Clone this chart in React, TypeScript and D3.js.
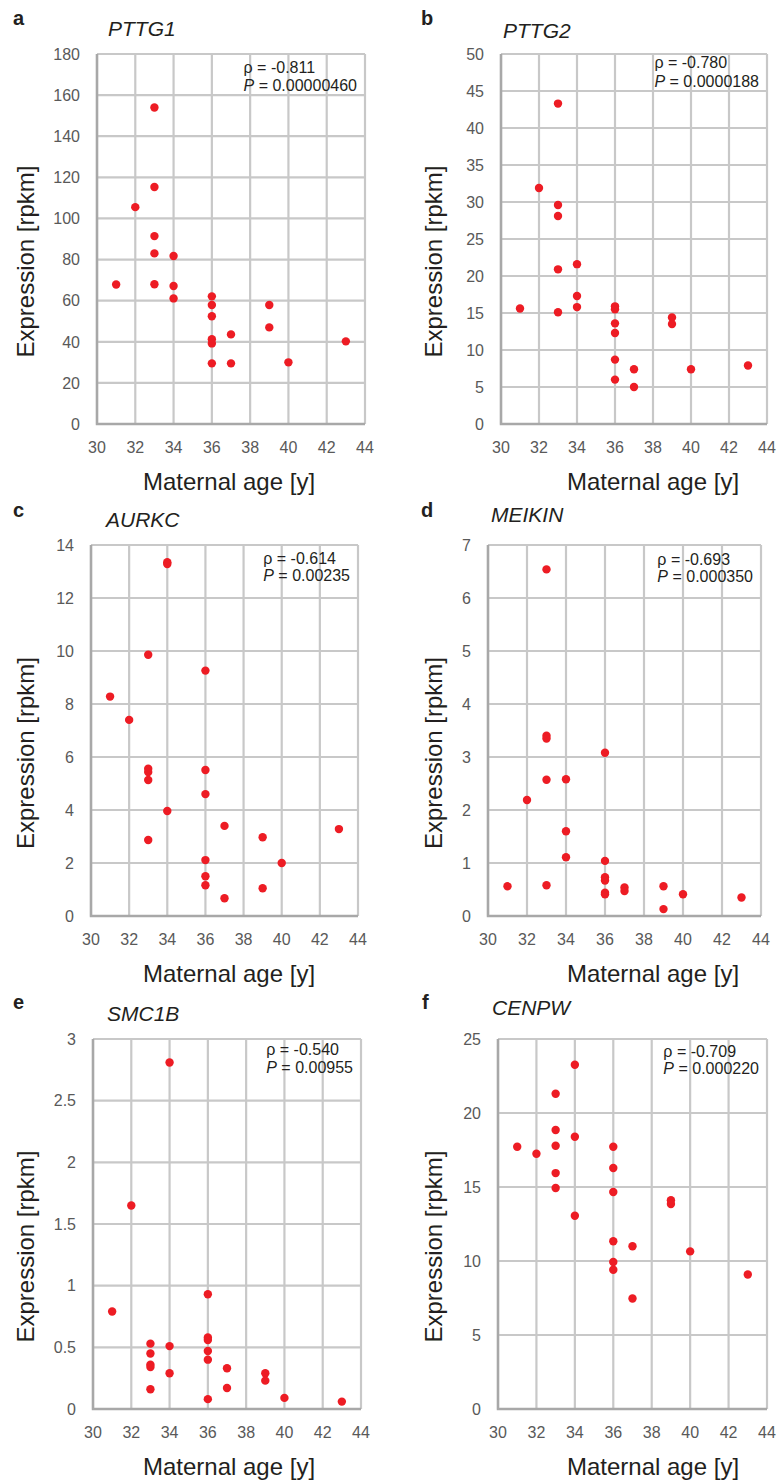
import React, { useEffect, useRef } from "react";
import * as d3 from "d3";

// maternal age of each of the 22 samples (same order for every gene, grouped by age)
const ages = [31, 32, 33, 33, 33, 33, 33, 34, 34, 34, 36, 36, 36, 36, 36, 36, 37, 37, 39, 39, 40, 43];

const pttg1 = [67.9, 105.5, 154, 115.3, 91.4, 83.0, 68.0, 81.7, 67.1, 61.1, 62.1, 57.9, 52.4, 41.2, 39.2, 29.5, 43.6, 29.5, 57.9, 47.0, 30.0, 40.2];
const pttg2 = [15.6, 31.9, 43.3, 29.6, 28.1, 20.9, 15.1, 21.6, 17.3, 15.8, 15.9, 15.5, 13.6, 12.3, 8.7, 6.0, 7.4, 5.0, 14.4, 13.5, 7.4, 7.9];
const aurkc = [8.28, 7.4, 9.86, 5.56, 5.43, 5.13, 2.87, 13.35, 13.28, 3.96, 9.26, 5.51, 4.6, 2.11, 1.5, 1.16, 3.4, 0.67, 2.97, 1.05, 2.0, 3.28];
const meikin = [0.56, 2.19, 6.54, 3.4, 3.35, 2.57, 0.58, 2.58, 1.6, 1.11, 3.08, 1.04, 0.73, 0.67, 0.44, 0.41, 0.54, 0.47, 0.56, 0.13, 0.41, 0.35];
const smc1b = [0.79, 1.65, 0.53, 0.45, 0.36, 0.34, 0.16, 2.81, 0.51, 0.29, 0.93, 0.58, 0.56, 0.47, 0.4, 0.08, 0.33, 0.17, 0.29, 0.23, 0.09, 0.06];
const cenpw = [17.72, 17.25, 21.3, 18.85, 17.79, 15.94, 14.93, 23.26, 18.4, 13.06, 17.72, 16.28, 14.66, 11.33, 9.93, 9.41, 11.0, 7.47, 14.1, 13.85, 10.65, 9.09];

const letters = ["a", "b", "c", "d", "e", "f"];
const genes = ["PTTG1", "PTTG2", "AURKC", "MEIKIN", "SMC1B", "CENPW"];
const rhos = ["-0.811", "-0.780", "-0.614", "-0.693", "-0.540", "-0.709"];
const pvals = ["0.00000460", "0.0000188", "0.00235", "0.000350", "0.00955", "0.000220"];
const yMax = [180, 50, 14, 7, 3, 25];
const yStep = [20, 5, 2, 1, 0.5, 5];
const xTicks = [30, 32, 34, 36, 38, 40, 42, 44];
const series = [pttg1, pttg2, aurkc, meikin, smc1b, cenpw];

// panel geometry (pixels)
const boxes = [
  { l: 97, r: 365, t: 54, b: 424, lx: 13, ly: 24.5, tx: 108, ty: 36, a1: 18.5, a2: 36.5, col: 0 },
  { l: 501, r: 767, t: 54, b: 424, lx: 421, ly: 25, tx: 503, ty: 37.5, a1: 14, a2: 33, col: 1 },
  { l: 91, r: 358, t: 545, b: 916, lx: 13, ly: 517, tx: 106, ty: 527, a1: 18.5, a2: 36, col: 0 },
  { l: 488, r: 761, t: 545, b: 916, lx: 421, ly: 517, tx: 491, ty: 522, a1: 20, a2: 37, col: 1 },
  { l: 93, r: 361, t: 1039, b: 1409, lx: 13, ly: 1009, tx: 107, ty: 1021, a1: 16, a2: 34, col: 0 },
  { l: 498, r: 767, t: 1039, b: 1409, lx: 422, ly: 1009, tx: 492, ty: 1015, a1: 18, a2: 35, col: 1 },
];
const xTitleX = [229, 653];
const yTitleX = [33.5, 442];

const font = "'Liberation Sans', Arial, Helvetica, sans-serif";

export default function App() {
  const ref = useRef<SVGSVGElement>(null);

  useEffect(() => {
    const svg = d3.select(ref.current);
    svg.selectAll("*").remove();

    boxes.forEach((bx, i) => {
      const g = svg.append("g");
      const x = d3.scaleLinear().domain([30, 44]).range([bx.l, bx.r]);
      const y = d3.scaleLinear().domain([0, yMax[i]]).range([bx.b, bx.t]);
      const yTicks = d3.range(0, yMax[i] + yStep[i] / 2, yStep[i]);

      // grid
      g.selectAll(".vg")
        .data(xTicks)
        .join("line")
        .attr("x1", (d) => x(d))
        .attr("x2", (d) => x(d))
        .attr("y1", bx.t)
        .attr("y2", bx.b)
        .attr("stroke", "#c8c8c8")
        .attr("stroke-width", 2.2);
      g.selectAll(".hg")
        .data(yTicks)
        .join("line")
        .attr("x1", bx.l)
        .attr("x2", bx.r)
        .attr("y1", (d) => y(d))
        .attr("y2", (d) => y(d))
        .attr("stroke", "#c8c8c8")
        .attr("stroke-width", 2.2);

      // axis lines
      g.append("path")
        .attr("d", `M${bx.l},${bx.t}V${bx.b}H${bx.r}`)
        .attr("fill", "none")
        .attr("stroke", "#a8a8a8")
        .attr("stroke-width", 2.5);

      // tick labels
      g.selectAll(".yl")
        .data(yTicks)
        .join("text")
        .attr("x", bx.l - 17)
        .attr("y", (d) => y(d))
        .attr("dy", "0.36em")
        .attr("text-anchor", "end")
        .attr("font-size", 16)
        .attr("fill", "#595959")
        .attr("font-family", font)
        .text((d) => String(+d.toFixed(2)));
      g.selectAll(".xl")
        .data(xTicks)
        .join("text")
        .attr("x", (d) => x(d))
        .attr("y", bx.b + 28.5)
        .attr("text-anchor", "middle")
        .attr("font-size", 16)
        .attr("fill", "#595959")
        .attr("font-family", font)
        .text((d) => d);

      // points
      g.selectAll("circle")
        .data(series[i].map((v, k) => ({ age: ages[k], v })))
        .join("circle")
        .attr("cx", (d) => x(d.age))
        .attr("cy", (d) => y(d.v))
        .attr("r", 4.2)
        .attr("fill", "#ed1c24");

      // titles
      g.append("text")
        .attr("x", bx.lx)
        .attr("y", bx.ly)
        .attr("font-size", 20)
        .attr("font-weight", "bold")
        .attr("font-family", font)
        .attr("fill", "#231f20")
        .text(letters[i]);
      g.append("text")
        .attr("x", bx.tx)
        .attr("y", bx.ty)
        .attr("font-size", 21)
        .attr("font-style", "italic")
        .attr("font-family", font)
        .attr("fill", "#231f20")
        .text(genes[i]);

      g.append("text")
        .attr("x", xTitleX[bx.col])
        .attr("y", bx.b + 66)
        .attr("text-anchor", "middle")
        .attr("font-size", 24)
        .attr("font-family", font)
        .attr("fill", "#231f20")
        .text("Maternal age [y]");
      const cy = (bx.t + bx.b) / 2 + 22.5;
      g.append("text")
        .attr("transform", `translate(${yTitleX[bx.col]},${cy}) rotate(-90)`)
        .attr("text-anchor", "middle")
        .attr("font-size", 24)
        .attr("font-family", font)
        .attr("fill", "#231f20")
        .text("Expression [rpkm]");

      // correlation annotation
      const pLine = g.append("text")
        .attr("x", bx.r - 8)
        .attr("y", bx.t + bx.a2)
        .attr("text-anchor", "end")
        .attr("font-size", 16)
        .attr("font-family", font)
        .attr("fill", "#231f20");
      pLine.append("tspan").attr("font-style", "italic").text("P");
      pLine.append("tspan").text(" = " + pvals[i]);
      const bb = (pLine.node() as SVGTextElement).getBBox();
      g.append("text")
        .attr("x", bb.x)
        .attr("y", bx.t + bx.a1)
        .attr("font-size", 16)
        .attr("font-family", font)
        .attr("fill", "#231f20")
        .text("ρ = " + rhos[i]);
    });
  }, []);

  return (
    <svg
      ref={ref}
      width={778}
      height={1481}
      style={{ position: "absolute", left: 0, top: 0, background: "#fff" }}
    />
  );
}
